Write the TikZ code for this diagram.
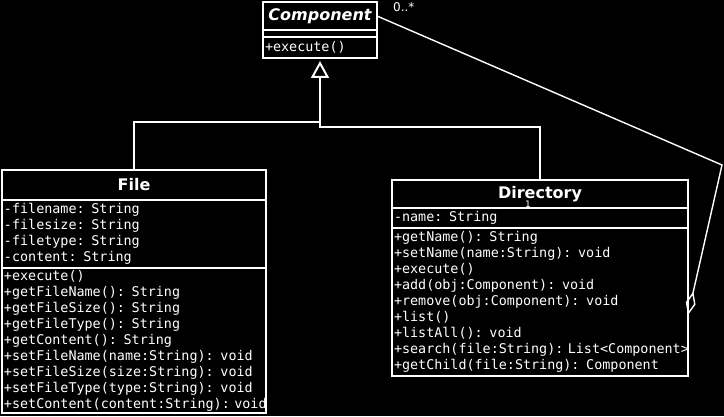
\documentclass[tikz,border=0pt]{standalone}
\usepackage{fontspec}
\setmainfont{DejaVu Sans}
\newfontfamily\umlmono{DejaVu Sans Mono}
\usetikzlibrary{positioning,arrows.meta}

\begin{document}
\begin{tikzpicture}[x=1pt, y=1pt,
  box/.style={draw=white, line width=2pt, outer sep=0pt, fill=black, text=white},
  classname/.style={box, inner sep=0pt, font=\fontsize{16}{19}\selectfont\bfseries},
  compartment/.style={box, inner xsep=2pt, inner ysep=1.5pt, text width=#1, align=left,
    font=\umlmono\fontsize{13.4}{16}\selectfont},
  mult/.style={text=white, inner sep=0pt, font=\fontsize{12}{14}\selectfont},
  gen/.style={draw=white, line width=2pt, -{Triangle[open, length=17pt, width=18pt]}},
  link/.style={draw=white, line width=2pt},
  agg/.style={draw=white, line width=1.4pt, -{Diamond[open, length=24pt, width=10pt]}}]

  \fill[black] (0,0) rectangle (724,416);
  \useasboundingbox (0,0) rectangle (724,416);

  % Component
  \node[classname, font=\fontsize{16}{19}\selectfont\bfseries\itshape,
    minimum width=114pt, minimum height=28pt, anchor=north] (compT) at (320,414) {Component};
  \node[compartment=110pt, minimum height=7pt, below=0pt of compT] (compA) {};
  \node[compartment=110pt, minimum height=21pt, below=0pt of compA] (compM) {+execute()};

  % File
  \node[classname, minimum width=264pt, minimum height=30pt, anchor=north] (fileT) at (134,246) {File};
  \node[compartment=260pt, minimum height=68pt, below=0pt of fileT] (fileA)
    {-filename: String\\-filesize: String\\-filetype: String\\-content: String};
  \node[compartment=260pt, minimum height=145pt, below=0pt of fileA] (fileM)
    {+execute()\\+getFileName(): String\\+getFileSize(): String\\+getFileType(): String\\
     +getContent(): String\\+setFileName(name:String): void\\+setFileSize(size:String): void\\
     +setFileType(type:String): void\\+setContent(content:String):~void};

  % Directory
  \node[classname, minimum width=296pt, minimum height=28pt, anchor=north] (dirT) at (540,236) {Directory};
  \node[mult, font=\fontsize{9}{11}\selectfont, anchor=base] (dirMult) at (528,208) {1};
  \node[compartment=292pt, minimum height=20pt, below=0pt of dirT] (dirA) {-name: String};
  \node[compartment=292pt, minimum height=148pt, below=0pt of dirA] (dirM)
    {+getName(): String\\+setName(name:String): void\\+execute()\\+add(obj:Component): void\\
     +remove(obj:Component): void\\+list()\\+listAll(): void\\
     +search(file:String):~List<Component>\\+getChild(file:String): Component};

  % generalization
  \coordinate (fork) at (320,294);
  \coordinate (forkD) at (320,289);
  \draw[gen] (fileT.north) |- (fork) -- ([yshift=-3pt]compM.south);
  \draw[link] (dirT.north) |- (forkD) -- (fork);

  % aggregation
  \coordinate (bend) at (722,251);
  \draw[agg] (compT.east) -- (bend) -- ([yshift=-13pt]dirM.east);
  \node[mult, anchor=base west] (compMult) at (393,404) {0..*};
\end{tikzpicture}
\end{document}
